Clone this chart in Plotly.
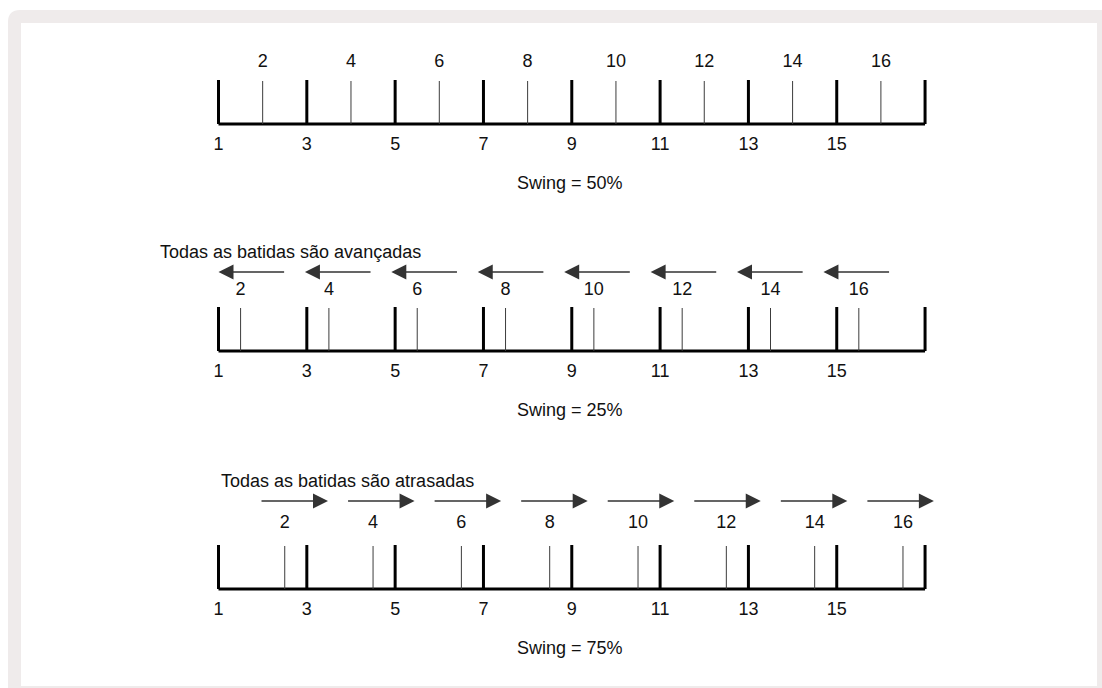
"""
Swing timing diagrams (Plotly)
"""

import plotly.graph_objects as go

W, H = 1102, 688

odd_beats = [1, 3, 5, 7, 9, 11, 13, 15]
even_beats = [2, 4, 6, 8, 10, 12, 14, 16]
end_beat = 17
swing_pct = [50, 25, 75]
captions = ['Swing = 50%', 'Swing = 25%', 'Swing = 75%']
notes = ['', 'Todas as batidas são avançadas', 'Todas as batidas são atrasadas']
arrow_dir = [0, -1, 1]   # -1 = moved earlier, 1 = moved later

# page layout of each strip (pixels from top of the page)
base_y = [124, 351, 589]
even_label_y = [62, 290, 523]
arrow_y = [None, 272, 501]
note_y = [None, 252, 481]
note_x = [None, -0.37, 1.0]
TICK_H = 44

# beat 1 sits at px 218.5, one sixteenth = 44.16 px
PX_PER_BEAT = 44.16
X0 = 1 - 218.5 / PX_PER_BEAT
X1 = X0 + W / PX_PER_BEAT

FONT = 'Liberation Sans, Arial, sans-serif'
GRAY_BG = '#efebeb'

fig = go.Figure()
annotations = []

for i, s in enumerate(swing_pct):
    by = base_y[i]

    # frame: baseline + thick ticks on odd beats and the closing beat
    xs, ys = [1, end_beat, None], [by, by, None]
    for b in odd_beats + [end_beat]:
        xs += [b, b, None]
        ys += [by - TICK_H, by, None]
    fig.add_trace(go.Scatter(x=xs, y=ys, mode='lines',
                             line=dict(color='#000000', width=3),
                             hoverinfo='skip', showlegend=False))

    # swung even beats
    even_pos = [e - 1 + 2 * s / 100 for e in even_beats]
    xs, ys = [], []
    for p in even_pos:
        xs += [p, p, None]
        ys += [by - TICK_H + 1, by, None]
    fig.add_trace(go.Scatter(x=xs, y=ys, mode='lines',
                             line=dict(color='#3c3c3c', width=1),
                             hoverinfo='skip', showlegend=False))

    # labels
    fig.add_trace(go.Scatter(x=even_pos, y=[even_label_y[i]] * len(even_pos),
                             mode='text', text=[str(e) for e in even_beats],
                             textfont=dict(family=FONT, size=18, color='#111111'),
                             hoverinfo='skip', showlegend=False))
    fig.add_trace(go.Scatter(x=odd_beats, y=[by + 21] * len(odd_beats),
                             mode='text', text=[str(o) for o in odd_beats],
                             textfont=dict(family=FONT, size=18, color='#111111'),
                             hoverinfo='skip', showlegend=False))

    annotations.append(dict(x=8.97, y=by + 59, xref='x', yref='y', text=captions[i],
                            showarrow=False, font=dict(family=FONT, size=18, color='#111111')))

    if arrow_dir[i] != 0:
        annotations.append(dict(x=note_x[i], y=note_y[i], xref='x', yref='y',
                                text=notes[i], showarrow=False, xanchor='left',
                                font=dict(family=FONT, size=18, color='#111111')))
        for k in range(len(even_beats)):
            if arrow_dir[i] < 0:
                tip = 1 + k * 1.957
                tail = tip + 1.52
            else:
                tail = 1.94 + k * 1.96
                tip = tail + 1.54
            annotations.append(dict(x=tip, y=arrow_y[i], ax=tail, ay=arrow_y[i],
                                    xref='x', yref='y', axref='x', ayref='y',
                                    text='', showarrow=True, arrowhead=2,
                                    arrowsize=2, arrowwidth=1.5, arrowcolor='#333333'))

# page background: grey rounded frame with a white panel inside
def px(x):
    return x / W

shapes = [
    dict(type='path', xref='paper', yref='y',
         path=(f'M {px(8)},700 L {px(8)},22 Q {px(8)},10 {px(20)},10 '
               f'L {px(1110)},10 L {px(1110)},700 Z'),
         fillcolor=GRAY_BG, line=dict(width=0), layer='below'),
    dict(type='rect', xref='paper', yref='y', x0=px(21), x1=px(1097), y0=23, y1=686,
         fillcolor='#ffffff', line=dict(width=0), layer='below'),
]

fig.update_layout(
    width=W, height=H,
    margin=dict(l=0, r=0, t=0, b=0),
    paper_bgcolor='#ffffff', plot_bgcolor='rgba(0,0,0,0)',
    xaxis=dict(range=[X0, X1], visible=False, fixedrange=True),
    yaxis=dict(range=[H, 0], visible=False, fixedrange=True),
    shapes=shapes,
    annotations=annotations,
    showlegend=False,
)

fig.write_html("out.html", config={'displayModeBar': False},
               post_script="document.body.style.margin='0';document.body.style.overflow='hidden';")
